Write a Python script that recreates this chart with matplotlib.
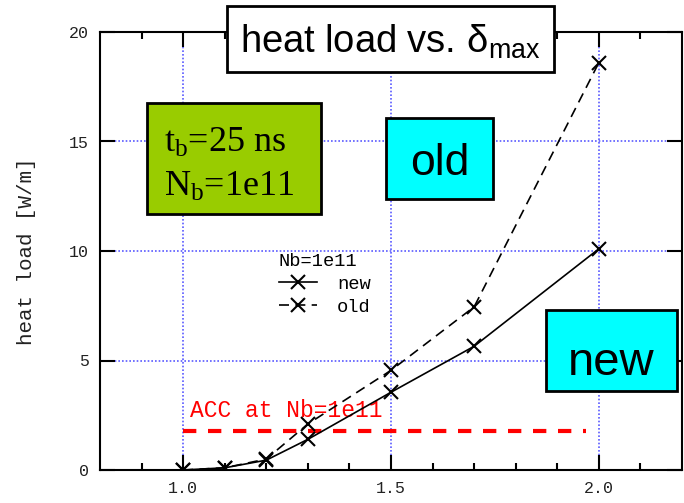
import matplotlib
matplotlib.use("Agg")
import matplotlib.pyplot as plt
from matplotlib.patches import Rectangle

# Secondary emission yield (delta_max) and heat load [W/m]
delta_max = [1.0, 1.1, 1.2, 1.3, 1.5, 1.7, 2.0]
heat_new = [0.0, 0.1, 0.45, 1.4, 3.55, 5.65, 10.1]
heat_old = [0.0, 0.1, 0.5, 2.1, 4.55, 7.45, 18.6]

# accelerator reference level at Nb=1e11
acc_x = [1.0, 1.97]
acc_level = 1.78

x_ticks = [1.0, 1.5, 2.0]
x_tick_labels = ["1.0", "1.5", "2.0"]
y_ticks = [0, 5, 10, 15, 20]

plt.rcParams["font.family"] = ["Liberation Mono", "DejaVu Sans Mono"]
plt.rcParams["mathtext.fontset"] = "custom"
plt.rcParams["mathtext.rm"] = "Liberation Serif"
plt.rcParams["mathtext.it"] = "Liberation Serif"
plt.rcParams["mathtext.sf"] = "Liberation Sans"

W, H = 684, 503
fig = plt.figure(figsize=(W / 100, H / 100), dpi=100)


def fx(px):
    return px / W


def fy(py):
    return 1 - py / H


ax = fig.add_axes([fx(100), fy(470), fx(682) - fx(100), fy(32) - fy(470)])
ax.set_xlim(0.8, 2.2)
ax.set_ylim(0, 20)

ax.plot(delta_max, heat_new, color="black", lw=1.2, marker="x", ms=10.5,
        mew=1.5, label="new", zorder=4)
ax.plot(delta_max, heat_old, color="black", lw=1.2, marker="x", ms=10.5,
        mew=1.5, linestyle=(0, (6, 3.8)), label="old", zorder=4)
ax.plot(acc_x, [acc_level, acc_level], color="red", lw=3,
        linestyle=(0, (3.2, 2.8)), zorder=3)
ax.text(1.017, 2.4, "ACC at Nb=1e11", color="red", fontsize=16.5,
        ha="left", va="baseline", zorder=3)

ax.set_xticks(x_ticks)
ax.set_xticklabels(x_tick_labels)
ax.set_xticks([0.9, 1.1, 1.2, 1.3, 1.4, 1.6, 1.7, 1.8, 1.9, 2.1], minor=True)
ax.set_yticks(y_ticks)
ax.tick_params(which="both", direction="in", top=True, right=True,
               labelsize=12, labelcolor="#222222", width=1.5)
ax.tick_params(which="major", length=10.5, pad=8)
ax.tick_params(which="minor", length=5)
for s in ax.spines.values():
    s.set_linewidth(1.5)

ax.grid(True, which="major", color="#5a5aff", lw=1.2, linestyle=(0, (1, 1.2)))
ax.set_axisbelow(True)

ax.set_ylabel("heat load [W/m]", fontsize=15, color="#222222", labelpad=24)

leg = ax.legend(title="Nb=1e11", loc="upper left",
                bbox_to_anchor=(fx(279), fy(253)), bbox_transform=fig.transFigure,
                frameon=False, fontsize=13.5, title_fontsize=13.5,
                handlelength=2.0, handletextpad=1.1, labelspacing=0.3,
                borderpad=0, borderaxespad=0)
leg._legend_box.align = "left"
leg.set_zorder(5)


def box(x0, y0, x1, y1, color):
    r = Rectangle((fx(x0), fy(y1)), fx(x1) - fx(x0), fy(y0) - fy(y1),
                  transform=fig.transFigure, facecolor=color,
                  edgecolor="black", lw=2, zorder=10)
    fig.add_artist(r)


# title box
box(227, 6, 554, 72, "white")
fig.text(fx(390), fy(42), r"$\mathsf{heat\ load\ vs.\!\ \delta_{max}}$",
         fontsize=27.5, ha="center", va="center", zorder=11)

# beam parameters box
box(147, 103, 321, 214, "#99cc00")
fig.text(fx(164), fy(152), r"t$_{\rm b}$=25 ns", family="Liberation Serif",
         fontsize=26, ha="left", va="baseline", zorder=11)
fig.text(fx(164), fy(196), r"N$_{\rm b}$=1e11", family="Liberation Serif",
         fontsize=26, ha="left", va="baseline", zorder=11)

# curve labels
box(386, 118, 493, 199, "#00ffff")
fig.text(fx(439.5), fy(175), "old", family="Liberation Sans",
         fontsize=32, ha="center", va="baseline", zorder=11)
box(546, 310, 677, 391, "#00ffff")
fig.text(fx(611.5), fy(375), "new", family="Liberation Sans",
         fontsize=34, ha="center", va="baseline", zorder=11)

fig.savefig("out.png", dpi=100)
